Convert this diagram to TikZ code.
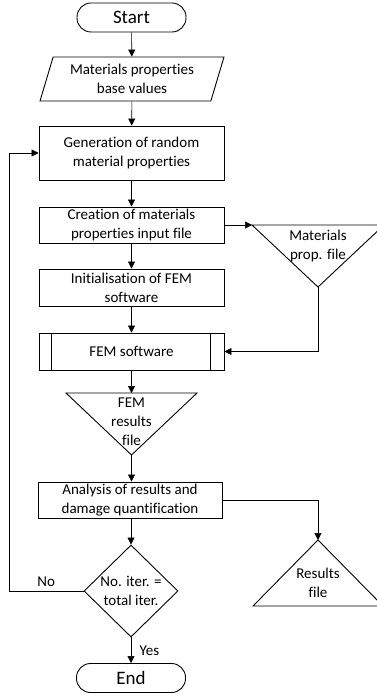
\documentclass[tikz,border=0pt]{standalone}
\usepackage{fontspec}
\setmainfont{Carlito}[Ligatures=NoCommon]
\usetikzlibrary{shapes.geometric,arrows.meta}

\tikzset{
	procbox/.style={draw=black,line width=0.9pt,rectangle,minimum width=185pt,align=center,inner sep=1pt},
	termbox/.style={draw=black,line width=0.9pt,rectangle,rounded corners=14pt,minimum width=109pt,minimum height=29pt,font=\fontsize{19}{22}\selectfont},
	iobox/.style={draw=black,line width=0.9pt,trapezium,trapezium left angle=66,trapezium right angle=114,trapezium stretches body,minimum width=184pt,minimum height=44pt,align=center,inner sep=0pt},
	decbox/.style={draw=black,line width=0.9pt,diamond,aspect=1,minimum width=94pt,minimum height=92pt,align=center,inner sep=0pt},
	filebox/.style={draw=black,line width=0.9pt,line join=miter},
	flow/.style={draw=black,line width=0.6pt,-{Triangle[length=7pt,width=7pt]}}
}

\begin{document}
\begin{tikzpicture}[x=1pt,y=-1pt,font=\fontsize{15}{19}\selectfont]
	
	\useasboundingbox (0,0) rectangle (376,695);
	
	% main column
	\node[termbox] (start)  at (131.5,17.5) {Start};
	\node[iobox]   (base)   at (132,79)     {Materials properties\\base values};
	\node[procbox,minimum height=54pt] (gen)    at (131.5,153)  {Generation of random\\material properties};
	\node[procbox,minimum height=36pt] (create) at (131.5,225)  {Creation of materials\\properties input file};
	\node[procbox,minimum height=37pt] (init)   at (131.5,287.5){Initialisation of FEM\\software};
	\node[procbox,minimum height=37pt] (fem)    at (131.5,351.5){FEM software};
	\draw[line width=0.9pt] ([xshift=13pt]fem.north west) -- ([xshift=13pt]fem.south west);
	\draw[line width=0.9pt] ([xshift=-14pt]fem.north east) -- ([xshift=-14pt]fem.south east);
	
	% FEM results file
	\coordinate (femtl) at (66,393);
	\coordinate (femtop) at (131.5,393);
	\coordinate (femtr) at (197,393);
	\coordinate (femapex) at (131.5,455);
	\draw[filebox] (femtl) -- (femtr) -- (femapex) -- cycle;
	\node[align=center,inner sep=0pt] (femtxt) at (131.5,422) {FEM\\results\\file};
	
	\node[procbox,minimum width=184pt,minimum height=36pt] (analysis) at (130,500) {Analysis of results and\\damage quantification};
	\node[decbox]  (check)  at (131,591)    {No. iter. =\\total iter.};
	\node[termbox] (finish) at (131,678)    {End};
	
	% materials prop. file
	\coordinate (mattl) at (252,225);
	\coordinate (mattr) at (384,225);
	\coordinate (matapex) at (318,287);
	\draw[filebox] (mattl) -- (mattr) -- (matapex) -- cycle;
	\node[align=center,inner sep=0pt] (mattxt) at (318,246) {Materials\\prop. file};
	
	% results file
	\coordinate (resapex) at (318,540);
	\coordinate (resbl) at (253,606);
	\coordinate (resbr) at (383,606);
	\draw[filebox] (resapex) -- (resbr) -- (resbl) -- cycle;
	\node[align=center,inner sep=0pt] (restxt) at (318,583) {Results\\file};
	
	% connectors
	\draw[flow] (start) -- (base);
	\draw[flow] (base) -- (gen);
	\draw[flow] (gen) -- (create);
	\draw[flow] (create) -- (init);
	\draw[flow] (init) -- (fem);
	\draw[flow] (create.east) -- (mattl);
	\draw[flow] (matapex) |- (fem.east);
	\draw[flow] (fem.south) -- (femtop);
	\draw[flow] (femapex) -- (analysis.north -| femapex);
	\draw[flow] (analysis.east) -| (resapex);
	\draw[flow] (analysis.south -| check.north) -- (check.north);
	\draw[flow] (check.south) -- node[right=5pt] {Yes} (finish.north);
	\coordinate (loop) at (9,591);
	\draw[flow] (check.west) -- node[above=1pt] {No} (loop) |- (gen.west);
	
\end{tikzpicture}
\end{document}
